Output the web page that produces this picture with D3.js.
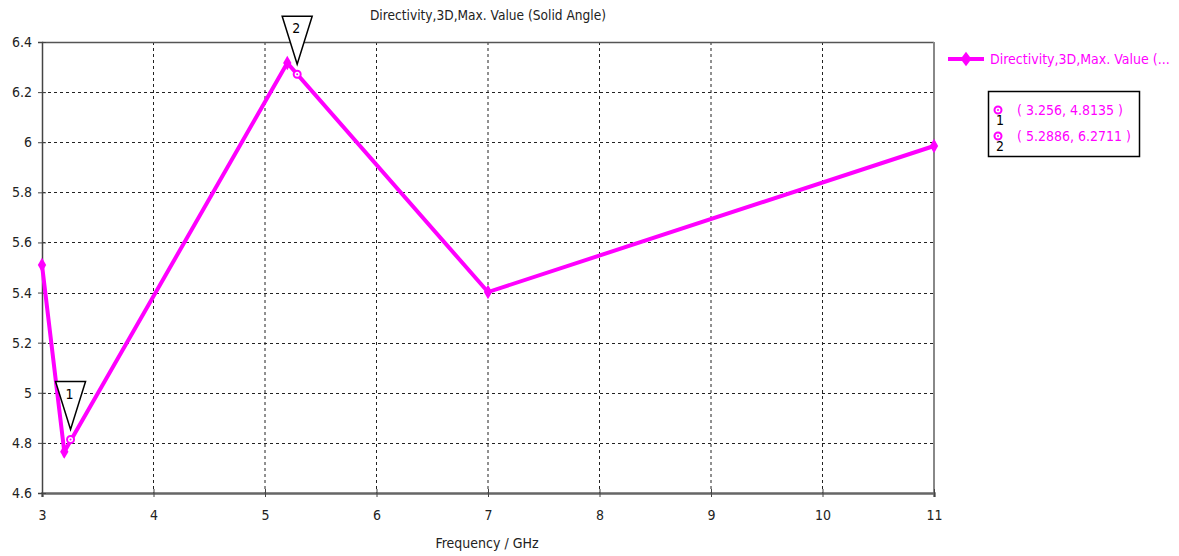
<!DOCTYPE html>
<html>
<head>
<meta charset="utf-8">
<script src="https://cdn.jsdelivr.net/npm/d3@7/dist/d3.min.js"></script>
<style>
  html, body { margin: 0; padding: 0; background: #fff; }
  svg text { font-family: "DejaVu Sans Condensed", "DejaVu Sans", sans-serif; }
</style>
</head>
<body>
<svg id="chart" width="1179" height="556"></svg>
<script>
// Directivity sweep (frequency in GHz, directivity in dBi)
const freq = [3, 3.2, 5.2, 7, 11];
const directivity = [5.51, 4.765, 6.316, 5.402, 5.985];

// Marker readouts
const markerIds = ["1", "2"];
const markerFreq = [3.256, 5.2886];
const markerValue = [4.8135, 6.2711];

const xTicks = [3, 4, 5, 6, 7, 8, 9, 10, 11];
const yTicks = [4.6, 4.8, 5, 5.2, 5.4, 5.6, 5.8, 6, 6.2, 6.4];

const titleText = "Directivity,3D,Max. Value (Solid Angle)";
const legendText = "Directivity,3D,Max. Value (...";
const xLabel = "Frequency / GHz";

const magenta = "#ff00ff";
const svg = d3.select("#chart");
const m = { left: 42, right: 934, top: 42, bottom: 493 };
const fs = 14;

const x = d3.scaleLinear().domain([3, 11]).range([m.left, m.right]);
const y = d3.scaleLinear().domain([4.6, 6.4]).range([m.bottom, m.top]);

// grid
const grid = svg.append("g");
grid.selectAll("line.v").data(xTicks.slice(1, -1)).join("line")
  .attr("x1", d => x(d)).attr("x2", d => x(d))
  .attr("y1", m.top).attr("y2", m.bottom)
  .attr("stroke", "#222").attr("stroke-width", 1).attr("stroke-dasharray", "3,3");
grid.selectAll("line.h").data(yTicks.slice(1, -1)).join("line")
  .attr("y1", d => Math.round(y(d)) + 0.5).attr("y2", d => Math.round(y(d)) + 0.5)
  .attr("x1", m.left).attr("x2", m.right)
  .attr("stroke", "#222").attr("stroke-width", 1).attr("stroke-dasharray", "3,3");

// frame
svg.append("line").attr("x1", m.left).attr("x2", m.right).attr("y1", m.top + 0.5).attr("y2", m.top + 0.5)
  .attr("stroke", "#555").attr("stroke-width", 1.5);
svg.append("line").attr("x1", m.right).attr("x2", m.right).attr("y1", m.top).attr("y2", m.bottom)
  .attr("stroke", "#888").attr("stroke-width", 2);

// axes
const xAxis = svg.append("g").attr("transform", `translate(0,${m.bottom})`)
  .call(d3.axisBottom(x).tickValues(xTicks).tickSize(4).tickPadding(13).tickFormat(d3.format("d")));
xAxis.select(".domain").attr("stroke", "#666").attr("stroke-width", 2.5);
xAxis.selectAll(".tick line").attr("y1", -4).attr("y2", 4).attr("stroke", "#444");
xAxis.selectAll("text").attr("font-size", fs).attr("fill", "#222");

const yAxis = svg.append("g").attr("transform", `translate(${m.left},0)`)
  .call(d3.axisLeft(y).tickValues(yTicks).tickSize(4).tickPadding(6).tickFormat(d => d3.format("~g")(d)));
yAxis.select(".domain").attr("stroke", "#444").attr("stroke-width", 1.5);
yAxis.selectAll(".tick line").attr("x1", -4).attr("x2", 4).attr("stroke", "#444");
yAxis.selectAll("text").attr("font-size", fs).attr("fill", "#222");

// title and axis label
svg.append("text").attr("x", 488).attr("y", 20).attr("text-anchor", "middle")
  .attr("font-size", 13.6).attr("fill", "#222").text(titleText);
svg.append("text").attr("x", 487).attr("y", 548).attr("text-anchor", "middle")
  .attr("font-size", fs).attr("fill", "#222").text(xLabel);

// curve
const pts = freq.map((f, i) => [f, directivity[i]]);
svg.append("path").datum(pts)
  .attr("d", d3.line().x(d => x(d[0])).y(d => y(d[1])))
  .attr("fill", "none").attr("stroke", magenta).attr("stroke-width", 4).attr("stroke-linejoin", "miter");

const diamond = d3.symbol().type(d3.symbolDiamond).size(60);
svg.selectAll("path.pt").data(pts).join("path")
  .attr("transform", d => `translate(${x(d[0])},${y(d[1])})`)
  .attr("d", diamond).attr("fill", magenta);

// markers on the curve
markerFreq.forEach((f, i) => {
  const cx = x(f), cy = y(markerValue[i]);
  svg.append("circle").attr("cx", cx).attr("cy", cy).attr("r", 3.5)
    .attr("fill", "#fff").attr("stroke", magenta).attr("stroke-width", 2);
  svg.append("circle").attr("cx", cx).attr("cy", cy).attr("r", 1).attr("fill", magenta);
  const tipY = cy - 10;
  svg.append("path")
    .attr("d", `M${cx - 15},${tipY - 48} L${cx + 15},${tipY - 48} L${cx},${tipY} Z`)
    .attr("fill", "#fff").attr("stroke", "#000").attr("stroke-width", 1.5);
  svg.append("text").attr("x", cx - 1).attr("y", tipY - 31).attr("text-anchor", "middle")
    .attr("font-size", fs).attr("fill", "#000").text(markerIds[i]);
});

// legend
svg.append("line").attr("x1", 948).attr("x2", 984).attr("y1", 59).attr("y2", 59)
  .attr("stroke", magenta).attr("stroke-width", 4);
svg.append("path").attr("transform", "translate(966,59) scale(1.3,1)").attr("d", diamond).attr("fill", magenta);
svg.append("text").attr("x", 990).attr("y", 64).attr("font-size", fs).attr("fill", magenta).text(legendText);

// marker readout box
svg.append("rect").attr("x", 988.5).attr("y", 91.5).attr("width", 151).attr("height", 65)
  .attr("fill", "#fff").attr("stroke", "#000").attr("stroke-width", 1.5);
markerIds.forEach((id, i) => {
  const ry = 110 + i * 26;
  svg.append("circle").attr("cx", 998).attr("cy", ry).attr("r", 3.5)
    .attr("fill", "#fff").attr("stroke", magenta).attr("stroke-width", 2);
  svg.append("circle").attr("cx", 998).attr("cy", ry).attr("r", 1).attr("fill", magenta);
  svg.append("text").attr("x", 996).attr("y", ry + 15).attr("font-size", fs).attr("fill", "#000").text(id);
  svg.append("text").attr("x", 1017).attr("y", ry + 5).attr("font-size", fs).attr("fill", magenta)
    .text(`( ${markerFreq[i]}, ${markerValue[i]} )`);
});
</script>
</body>
</html>
